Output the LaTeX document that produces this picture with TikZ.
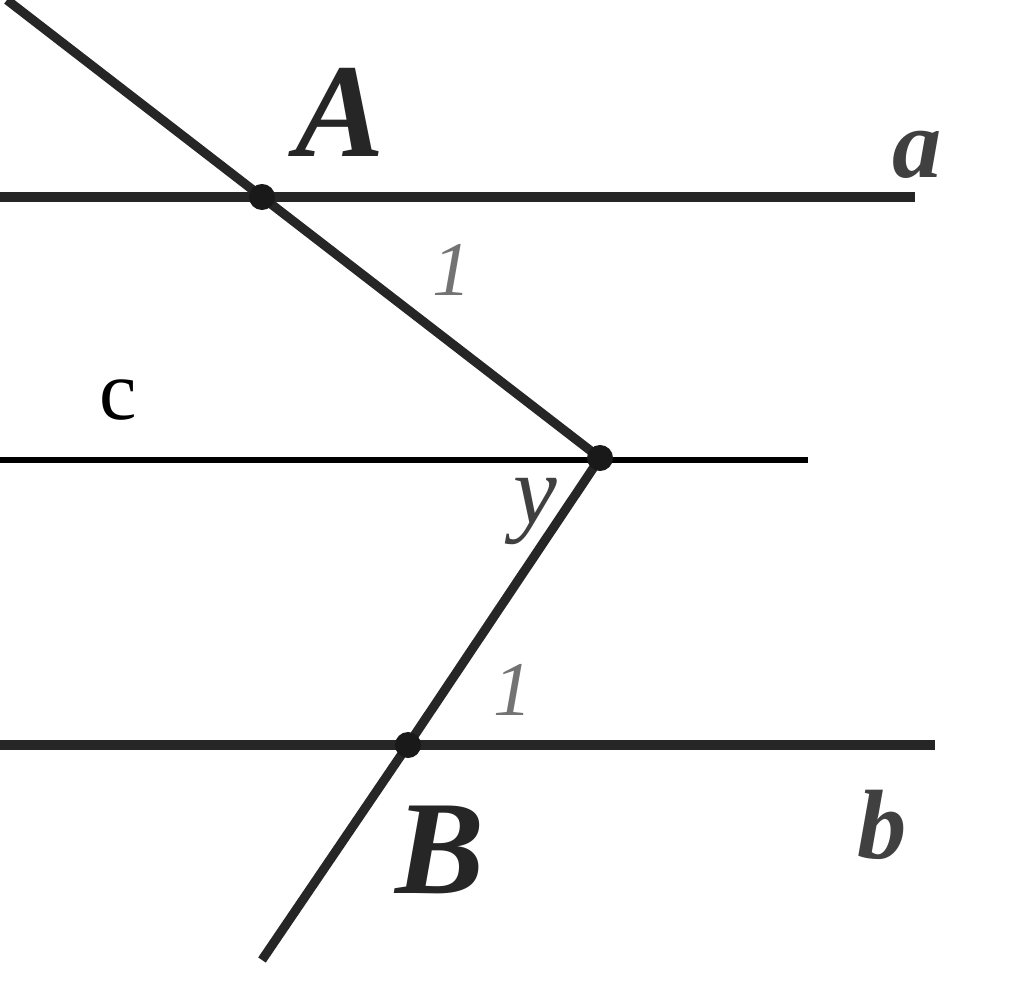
\documentclass[tikz,border=0pt]{standalone}
\usepackage{fontspec}
\setmainfont{Liberation Serif}
\begin{document}
\begin{tikzpicture}[x=0.01cm,y=-0.01cm,
  ln/.style={line width=2.6pt,color=black!85},
  thin/.style={line width=1.7pt,color=black},
  pt/.style={circle,fill=black!90,inner sep=0pt,minimum size=0.26cm},
  big/.style={font=\fontsize{38}{40}\selectfont\bfseries\itshape,inner sep=0pt,color=black!85},
  lab/.style={font=\fontsize{28}{30}\selectfont\bfseries\itshape,inner sep=0pt,color=black!75},
  one/.style={font=\fontsize{22}{24}\selectfont\itshape,inner sep=0pt,color=black!55}]
\useasboundingbox[fill=white] (0,0) rectangle (1024,982);
\coordinate (T) at (7,0);
\coordinate (A) at (262,197);
\coordinate (C) at (600,458);
\coordinate (B) at (408,745);
\coordinate (E) at (262,960);
\coordinate (aL) at (0,197); \coordinate (aR) at (915,197);
\coordinate (cL) at (0,460); \coordinate (cR) at (808,460);
\coordinate (bL) at (0,745); \coordinate (bR) at (935,745);
\draw[ln] (aL) -- (aR);
\draw[thin] (cL) -- (cR);
\draw[ln] (bL) -- (bR);
\draw[ln] (T) -- (A) -- (C) -- (B) -- (E);
\node[pt] (pA) at (A) {};
\node[pt] (pC) at (C) {};
\node[pt] (pB) at (B) {};
\node[big] (lA) at (340,112) {A};
\node[big] (lB) at (440,850) {B};
\node[lab] (la) at (917,155) {a};
\node[lab] (lb) at (882,825) {b};
\node[font=\fontsize{24}{26}\selectfont,inner sep=0pt] (lc) at (118,400) {c};
\node[one] (o1) at (452,270) {1};
\node[one] (o2) at (513,690) {1};
\node[font=\fontsize{28}{30}\selectfont\itshape,inner sep=0pt,color=black!75] (ly) at (535,512) {y};
\end{tikzpicture}
\end{document}
